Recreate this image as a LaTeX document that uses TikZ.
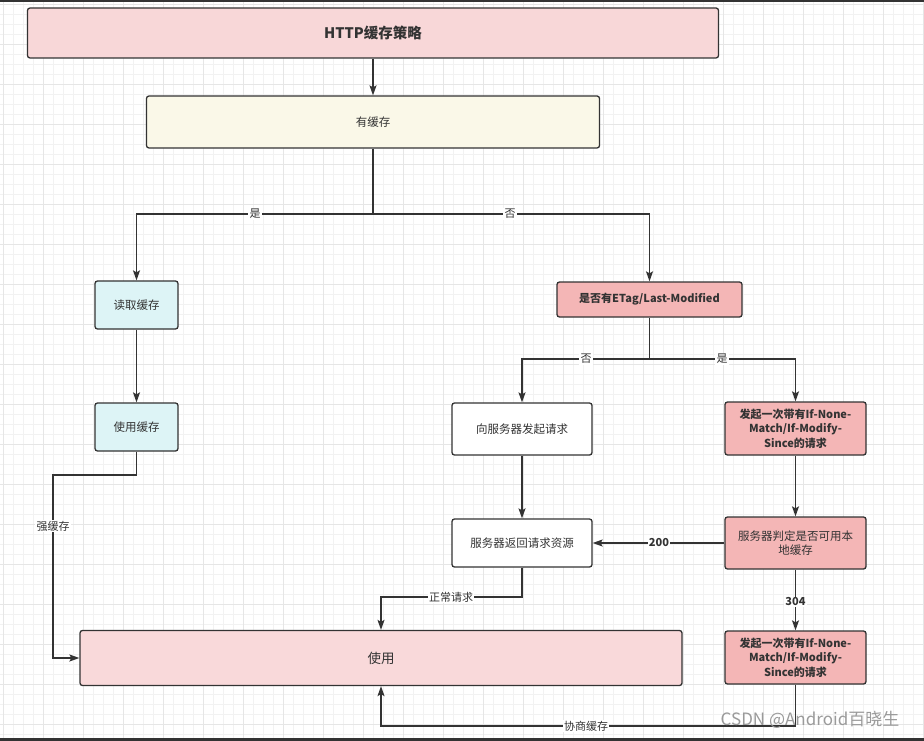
\documentclass[tikz,border=0pt]{standalone}
\usepackage{fontspec}
\setmainfont{Noto Sans CJK SC}
\usetikzlibrary{arrows.meta}
\definecolor{linec}{HTML}{333333}
\definecolor{titlefill}{HTML}{F8D7D8}
\definecolor{hasfill}{HTML}{FAF8E8}
\definecolor{cyanfill}{HTML}{DDF4F6}
\definecolor{pinkfill}{HTML}{F4B6B6}
\definecolor{usefill}{HTML}{F9D9DA}
\definecolor{gridminor}{HTML}{F2F2F2}
\definecolor{gridmajor}{HTML}{E6E6E6}
\definecolor{wmgray}{HTML}{9A9A9A}
\begin{document}
\begin{tikzpicture}[x=1pt,y=-1pt,
  box/.style={draw=linec, line width=1.3pt, rounded corners=2.5pt, align=center, inner sep=2pt,
     font=\fontsize{11.5}{14.5}\selectfont, text=linec},
  boldbox/.style={box, font=\bfseries\fontsize{11}{14.5}\selectfont},
  line/.style={draw=linec, line width=1.3pt},
  conn/.style={draw=linec, line width=1.3pt, -{Stealth[length=10pt,width=7pt,inset=2pt]}},
  lbl/.style={fill=white, inner sep=1.2pt, text=linec, font=\fontsize{11}{13}\selectfont}
]
\useasboundingbox (0,0) rectangle (924,741);
\fill[white] (0,0) rectangle (924,741);
\foreach \x in {0,10,...,920} \draw[gridminor, line width=0.5pt] (\x+3,0) -- (\x+3,741);
\foreach \y in {0,10,...,740} \draw[gridminor, line width=0.5pt] (0,\y+4) -- (924,\y+4);
\foreach \x in {0,40,...,920} \draw[gridmajor, line width=0.6pt] (\x+3,0) -- (\x+3,741);
\foreach \y in {0,40,...,720} \draw[gridmajor, line width=0.6pt] (0,\y+4) -- (924,\y+4);
\draw[linec, line width=2pt] (0,1) -- (924,1);
\draw[linec, line width=3pt] (0,739.5) -- (924,739.5);

% boxes
\node[box, fill=titlefill, minimum width=691pt, minimum height=50pt,
      font=\bfseries\fontsize{14.5}{17}\selectfont] (title) at (373,33) {HTTP缓存策略};
\node[box, fill=hasfill, minimum width=453pt, minimum height=52pt] (has) at (373,122) {有缓存};
\node[box, fill=cyanfill, minimum width=83pt, minimum height=48pt] (read) at (136.5,305) {读取缓存};
\node[boldbox, fill=pinkfill, minimum width=185pt, minimum height=35pt] (etag) at (649.5,299.5) {是否有ETag/Last-Modified};
\node[box, fill=cyanfill, minimum width=83pt, minimum height=48pt] (usec) at (136.5,427) {使用缓存};
\node[box, fill=white, minimum width=140pt, minimum height=52pt] (req) at (522,429) {向服务器发起请求};
\node[boldbox, fill=pinkfill, minimum width=141pt, minimum height=53pt] (rich) at (795.5,428.5) {发起一次带有If-None-\\Match/If-Modify-\\Since的请求};
\node[box, fill=white, minimum width=140pt, minimum height=48pt] (ret) at (522,543) {服务器返回请求资源};
\node[box, fill=pinkfill, minimum width=141pt, minimum height=52pt] (judge) at (795.5,543) {服务器判定是否可用本\\地缓存};
\node[boldbox, fill=pinkfill, minimum width=141pt, minimum height=53pt] (rich2) at (795.5,657.5) {发起一次带有If-None-\\Match/If-Modify-\\Since的请求};
\node[box, fill=usefill, minimum width=602pt, minimum height=55pt,
      font=\fontsize{13.5}{16}\selectfont] (use) at (381,658) {使用};

% connectors
\coordinate (s1) at (373,214);
\coordinate (s2) at (649.5,359);
\coordinate (k1) at (53,475);
\coordinate (k2) at (381,597);
\coordinate (k3) at (381,726);
\draw[conn] (title) -- (has);
\draw[line] (has.south) -- (s1);
\draw[conn] (s1) -| (read.north);
\draw[conn] (s1) -| (etag.north);
\draw[conn] (read) -- (usec);
\draw[line] (etag.south) -- (s2);
\draw[conn] (s2) -| (req.north);
\draw[conn] (s2) -| (rich.north);
\draw[conn] (req) -- (ret);
\draw[conn] (rich) -- (judge);
\draw[conn] (judge) -- (ret);
\draw[conn] (judge) -- (rich2);
\draw[conn] (usec.south) |- (k1) |- (use.west);
\draw[conn] (ret.south) |- (k2) -- (use.north);
\draw[conn] (rich2.south) |- (k3) -- (use.south);

% labels
\node[lbl] (l1) at (255,214) {是};
\node[lbl] (l2) at (510,214) {否};
\node[lbl] (l3) at (586,359) {否};
\node[lbl] (l4) at (722,359) {是};
\node[lbl] (l5) at (53,526) {强缓存};
\node[lbl] (l6) at (451,597) {正常请求};
\node[lbl] (l7) at (586,726) {协商缓存};
\node[lbl, font=\bfseries\fontsize{11}{13}\selectfont] (l8) at (659,543) {200};
\node[lbl, font=\bfseries\fontsize{11}{13}\selectfont] (l9) at (795.5,602) {304};

\node[text=wmgray, font=\fontsize{17}{20}\selectfont, inner sep=0pt] (wm) at (810,720) {CSDN @Android百晓生};
\end{tikzpicture}
\end{document}
